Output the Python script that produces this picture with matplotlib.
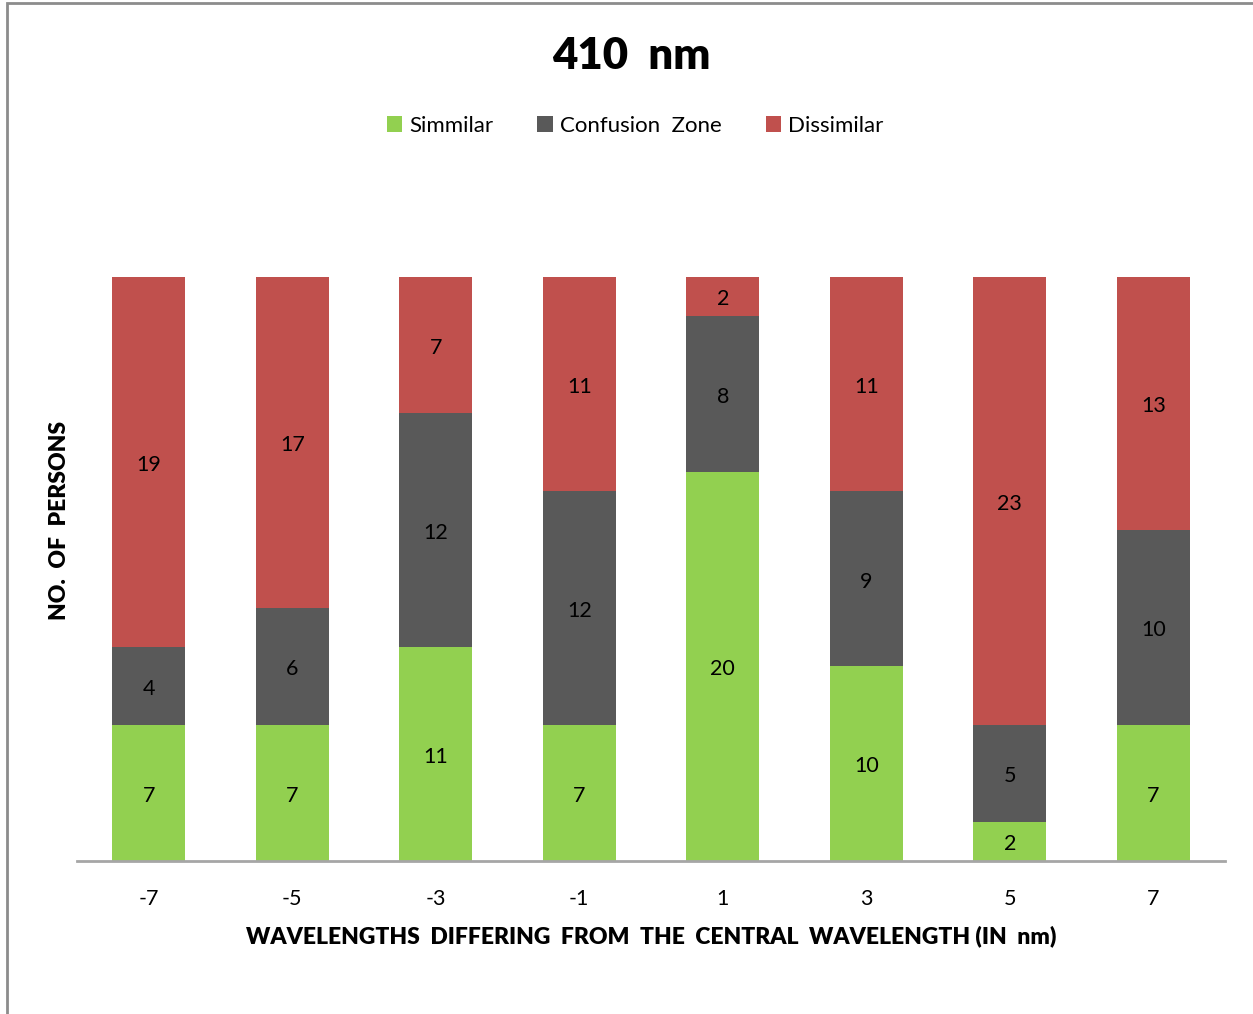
import matplotlib.pyplot as plt
from matplotlib.patches import Rectangle
import numpy as np

plt.rcParams['font.family'] = ['Lato', 'DejaVu Sans']

offsets = ["-7", "-5", "-3", "-1", "1", "3", "5", "7"]
similar = [7, 7, 11, 7, 20, 10, 2, 7]
confusion = [4, 6, 12, 12, 8, 9, 5, 10]
dissimilar = [19, 17, 7, 11, 2, 11, 23, 13]

GREEN = "#92D050"
GREY = "#595959"
RED = "#C0504D"


def main():
    fig = plt.figure(figsize=(12.53, 10.14), dpi=100)
    W, H = 1253, 1014
    ax = fig.add_axes([77 / W, 1 - 861 / H, (1225 - 77) / W, (861 - 277) / H])

    # thin grey frame round the chart area
    fig.patches.append(Rectangle((7 / W, -0.1), 1.2, 1 - 3 / H + 0.1, transform=fig.transFigure,
                                 fill=False, edgecolor="#8C8C8C", linewidth=2))

    x = np.arange(len(offsets))
    sim = np.array(similar)
    con = np.array(confusion)
    dis = np.array(dissimilar)
    w = 0.51
    b1 = ax.bar(x, sim, w, color=GREEN, label="Simmilar")
    b2 = ax.bar(x, con, w, bottom=sim, color=GREY, label="Confusion  Zone")
    b3 = ax.bar(x, dis, w, bottom=sim + con, color=RED, label="Dissimilar")

    for bars in (b1, b2, b3):
        ax.bar_label(bars, label_type='center', fontsize=15.5, color="black", padding=-2)

    ax.set_xlim(-0.5, len(offsets) - 0.5)
    ax.set_ylim(0, 30)
    ax.set_xticks(x)
    ax.set_xticklabels(offsets, fontsize=15.5)
    ax.tick_params(axis='x', length=0, pad=20)
    ax.set_yticks([])
    for s in ("top", "right", "left"):
        ax.spines[s].set_visible(False)
    ax.spines["bottom"].set_color("#A6A6A6")
    ax.spines["bottom"].set_linewidth(2)

    ax.set_xlabel("WAVELENGTHS  DIFFERING  FROM  THE  CENTRAL  WAVELENGTH (IN  nm)",
                  fontsize=16.5, fontweight='heavy', labelpad=12)
    fig.text(59 / W, 1 - 520 / H, "NO.  OF  PERSONS", rotation=90, fontsize=16.5,
             fontweight='heavy', ha='center', va='center')

    fig.text(631 / W, 1 - 56 / H, "410  nm", fontsize=31.5, fontweight='heavy',
             ha='center', va='center')

    fig.legend(handles=[b1, b2, b3], loc='center', bbox_to_anchor=(635 / W, 1 - 126 / H),
               ncol=3, frameon=False, fontsize=16, handlelength=0.7, handleheight=0.7,
               handletextpad=0.3, columnspacing=2.0)

    fig.savefig("out.png", dpi=100)


if __name__ == '__main__':
    main()
